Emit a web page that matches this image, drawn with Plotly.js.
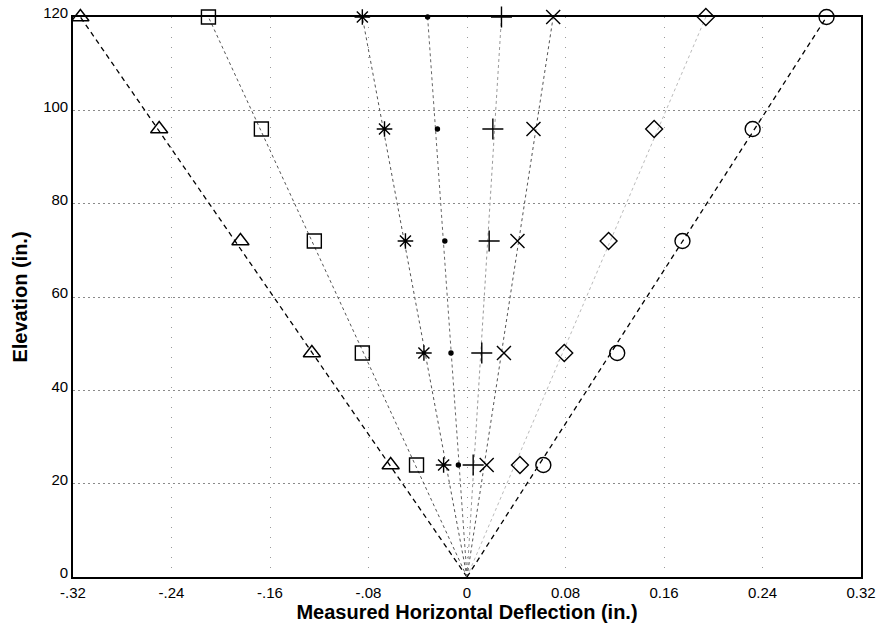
<!DOCTYPE html>
<html>
<head>
<meta charset="utf-8">
<script src="https://cdn.plot.ly/plotly-3.0.1.min.js"></script>
<style>
html,body{margin:0;padding:0;background:#fff;}
#chart{width:881px;height:626px;}
</style>
</head>
<body>
<div id="chart"></div>
<script>
// Elevations (in.)
const elevation = [24, 48, 72, 96, 120];
// Measured horizontal deflection (in.) for each series
const triangleSeries = [-0.062, -0.126, -0.184, -0.250, -0.314];
const squareSeries   = [-0.041, -0.085, -0.124, -0.167, -0.210];
const asteriskSeries = [-0.019, -0.035, -0.050, -0.067, -0.085];
const dotSeries      = [-0.007, -0.013, -0.018, -0.024, -0.032];
const plusSeries     = [0.005, 0.012, 0.018, 0.021, 0.028];
const xSeries        = [0.016, 0.030, 0.041, 0.054, 0.070];
const diamondSeries  = [0.043, 0.079, 0.115, 0.152, 0.194];
const circleSeries   = [0.062, 0.122, 0.175, 0.232, 0.292];

const xTickVals = [-0.32, -0.24, -0.16, -0.08, 0, 0.08, 0.16, 0.24, 0.32];
const xTickText = ['-.32', '-.24', '-.16', '-.08', '0', '0.08', '0.16', '0.24', '0.32'];
const yTickVals = [0, 20, 40, 60, 80, 100, 120];

const series = [
  {x: triangleSeries, symbol: 'triangle-up-open', size: 15, lc: '#000', dash: '5px,4px', lw: 1.3},
  {x: squareSeries,   symbol: 'square-open',      size: 14, lc: '#555', dash: 'dot', lw: 1},
  {x: asteriskSeries, symbol: 'asterisk-open',    size: 13, lc: '#555', dash: 'dot', lw: 1},
  {x: dotSeries,      symbol: 'circle',           size: 4,  lc: '#666', dash: 'dot', lw: 1},
  {x: plusSeries,     symbol: 'cross-thin-open',  size: 15, lc: '#999', dash: 'dot', lw: 1},
  {x: xSeries,        symbol: 'x-thin-open',      size: 14, lc: '#555', dash: 'dot', lw: 1},
  {x: diamondSeries,  symbol: 'diamond-open',     size: 13, lc: '#bbb', dash: 'dot', lw: 1},
  {x: circleSeries,   symbol: 'circle-open',      size: 15, lc: '#000', dash: '5px,4px', lw: 1.3}
];

const traces = [];
// lines from origin to top point
series.forEach(s => {
  traces.push({
    x: [0, s.x[s.x.length - 1]],
    y: [0, elevation[elevation.length - 1]],
    mode: 'lines',
    line: {color: s.lc, width: s.lw, dash: s.dash},
    hoverinfo: 'skip',
    showlegend: false,
    cliponaxis: false
  });
});
series.forEach(s => {
  traces.push({
    x: s.x,
    y: elevation,
    mode: 'markers',
    marker: {symbol: s.symbol, size: s.size, color: '#000', line: {color: '#000', width: 1.4}},
    showlegend: false,
    cliponaxis: false
  });
});

const layout = {
  width: 881,
  height: 626,
  margin: {l: 73, r: 20, t: 17, b: 49},
  paper_bgcolor: '#fff',
  plot_bgcolor: '#fff',
  font: {family: '"Liberation Sans", Arial, sans-serif', color: '#000', size: 15},
  showlegend: false,
  xaxis: {
    range: [-0.32, 0.32],
    tickmode: 'array',
    tickvals: xTickVals,
    ticktext: xTickText,
    ticks: '',
    ticklabelstandoff: 1,
    showgrid: true,
    gridcolor: '#999',
    griddash: '1px,9px',
    gridwidth: 1,
    zeroline: false,
    showline: true,
    linecolor: '#000',
    linewidth: 1.8,
    mirror: true,
    tickfont: {size: 15},
    title: {text: '<b>Measured Horizontal Deflection (in.)</b>', font: {size: 20}, standoff: 2}
  },
  yaxis: {
    range: [0, 120],
    tickmode: 'array',
    tickvals: yTickVals,
    ticks: '',
    ticklabelshift: -4,
    showgrid: true,
    gridcolor: '#8a8a8a',
    griddash: '2px,3px',
    gridwidth: 1,
    zeroline: false,
    showline: true,
    linecolor: '#000',
    linewidth: 1.8,
    mirror: true,
    tickfont: {size: 15},
    title: {text: '<b>Elevation (in.)</b>', font: {size: 20}, standoff: 10}
  }
};

Plotly.newPlot('chart', traces, layout, {displayModeBar: false, staticPlot: true});
</script>
</body>
</html>
